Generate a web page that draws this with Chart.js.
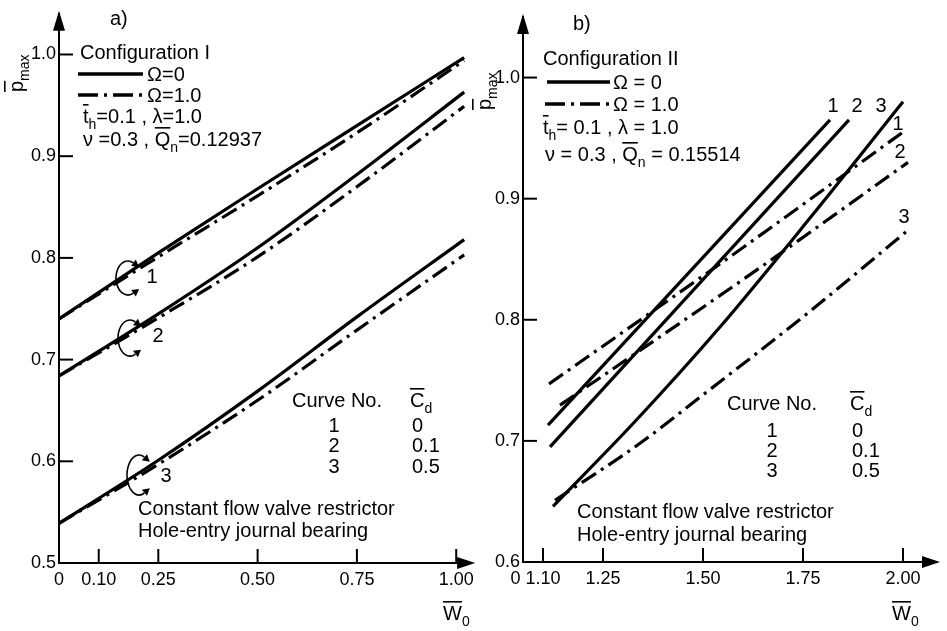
<!DOCTYPE html>
<html><head><meta charset="utf-8">
<script src="https://cdn.jsdelivr.net/npm/chart.js@4.4.1/dist/chart.umd.min.js"></script>
<style>
html,body{margin:0;padding:0;background:#fff;}
#wrap{position:relative;width:947px;height:631px;overflow:hidden;background:#fff;}
#ca{position:absolute;left:0;top:0;}
#cb{position:absolute;left:470px;top:0;}
</style></head><body>
<div id="wrap"><canvas id="ca" width="480" height="631"></canvas><canvas id="cb" width="477" height="631"></canvas></div>
<script>
const FF = '"Liberation Sans", Arial, sans-serif';
Chart.defaults.font.family = FF;
Chart.defaults.color = '#000';
const DASHDOT = [17, 6, 3, 6];

// ---------- Panel a) Configuration I ----------
const aX  = [0, 0.25, 0.5, 0.75, 1.02];
const aS1 = [0.740, 0.805, 0.868, 0.930, 0.997];   // Omega = 0, curve 1
const aS2 = [0.684, 0.745, 0.810, 0.882, 0.963];   // Omega = 0, curve 2
const aS3 = [0.539, 0.601, 0.669, 0.742, 0.818];   // Omega = 0, curve 3
const aD1 = [0.740, 0.801, 0.861, 0.923, 0.994];   // Omega = 1.0, curve 1
const aD2 = [0.684, 0.741, 0.801, 0.870, 0.949];   // Omega = 1.0, curve 2
const aD3 = [0.539, 0.597, 0.660, 0.729, 0.803];   // Omega = 1.0, curve 3
const aXTicks  = [0, 0.10, 0.25, 0.50, 0.75, 1.00];
const aXLabels = ['0', '0.10', '0.25', '0.50', '0.75', '1.00'];
const aYTicks  = [0.5, 0.6, 0.7, 0.8, 0.9, 1.0];
const aYLabels = ['0.5', '0.6', '0.7', '0.8', '0.9', '1.0'];

// ---------- Panel b) Configuration II ----------
const bS1x = [1.1125, 1.8175];                      const bS1y = [0.713, 0.965];
const bS2x = [1.1175, 1.865];                       const bS2y = [0.695, 0.965];
const bS3x = [1.125, 1.33, 1.5425, 1.77, 2.0];      const bS3y = [0.646, 0.716, 0.794, 0.885, 0.980];
const bD1x = [1.115, 1.61, 2.0];                    const bD1y = [0.747, 0.862, 0.955];
const bD2x = [1.1425, 1.6425, 2.0125];              const bD2y = [0.7295, 0.843, 0.930];
const bD3x = [1.13, 1.3425, 1.5, 1.7675, 2.0125];   const bD3y = [0.651, 0.698, 0.738, 0.807, 0.874];
const bXTicks  = [1.05, 1.10, 1.25, 1.50, 1.75, 2.00];
const bXLabels = ['0   ', '1.10', '1.25', '1.50', '1.75', '2.00'];
const bYTicks  = [0.6, 0.7, 0.8, 0.9, 1.0];
const bYLabels = ['0.6', '0.7', '0.8', '0.9', '1.0'];

const pts = (xs, ys) => xs.map((x, i) => ({x: x, y: ys[i]}));
const ds = (xs, ys, dashed) => ({
  data: pts(xs, ys), borderColor: '#000', borderWidth: 3.2,
  borderDash: dashed ? DASHDOT : [], pointRadius: 0, fill: false,
  cubicInterpolationMode: 'monotone', borderCapStyle: 'butt'
});

function line(ctx, x1, y1, x2, y2) { ctx.beginPath(); ctx.moveTo(x1, y1); ctx.lineTo(x2, y2); ctx.stroke(); }

function rich(ctx, x, y, parts, size, align) {
  // parts: [text, kind]; kind: '' normal, 'b' overbar, 's' subscript
  const widths = parts.map(([t, k]) => {
    ctx.font = (k === 's' ? Math.round(size * 0.72) : size) + 'px ' + FF;
    return ctx.measureText(t).width;
  });
  const total = widths.reduce((a, b) => a + b, 0);
  let cx = align === 'center' ? x - total / 2 : x;
  ctx.textBaseline = 'alphabetic'; ctx.textAlign = 'left';
  parts.forEach(([t, k], i) => {
    if (k === 's') {
      ctx.font = Math.round(size * 0.72) + 'px ' + FF;
      ctx.fillText(t, cx, y + size * 0.28);
    } else {
      ctx.font = size + 'px ' + FF;
      ctx.fillText(t, cx, y);
      if (k === 'b') ctx.fillRect(cx, y - size * 0.95, widths[i], 1.6);
    }
    cx += widths[i];
  });
}

function curl(ctx, cx, cy, rx, ry) {
  const a = 1.1;
  ctx.lineWidth = 1.6;
  ctx.beginPath(); ctx.ellipse(cx, cy, rx, ry, 0, -a, a, true); ctx.stroke();
  const heads = [
    {t: -a, dx: rx * Math.sin(a), dy: ry * Math.cos(a)},
    {t: a, dx: rx * Math.sin(a), dy: -ry * Math.cos(a)}
  ];
  heads.forEach(h => {
    const px = cx + rx * Math.cos(h.t), py = cy + ry * Math.sin(h.t);
    const L = Math.hypot(h.dx, h.dy); const ux = h.dx / L, uy = h.dy / L;
    ctx.beginPath();
    ctx.moveTo(px + ux * 7, py + uy * 7);
    ctx.lineTo(px - uy * 4, py + ux * 4);
    ctx.lineTo(px + uy * 4, py - ux * 4);
    ctx.closePath(); ctx.fill();
  });
}

function sample(ctx, x1, x2, y, dashed) {
  ctx.save(); ctx.lineWidth = 3.5; ctx.setLineDash(dashed ? [20, 6, 3, 6] : []);
  line(ctx, x1, y, x2, y); ctx.restore();
}

function decor(id, xT, yT, arrowTip, drawExtra) {
  return { id: 'decor' + id, afterDraw(chart) {
    const ctx = chart.ctx, xs = chart.scales.x, ys = chart.scales.y, ca = chart.chartArea;
    ctx.save();
    ctx.strokeStyle = '#000'; ctx.fillStyle = '#000'; ctx.lineWidth = 2;
    xT.forEach(v => { if (v === xs.min) return; const p = xs.getPixelForValue(v); line(ctx, p, ca.bottom, p, ca.bottom - 14); });
    yT.forEach(v => { if (v === ys.min) return; const p = ys.getPixelForValue(v); line(ctx, ca.left, p, ca.left + 14, p); });
    // axis arrows
    ctx.beginPath(); ctx.moveTo(ca.left, ca.top - 3); ctx.lineTo(ca.left - 6, ca.top + 17); ctx.lineTo(ca.left + 6, ca.top + 17); ctx.closePath(); ctx.fill();
    line(ctx, ca.right, ca.bottom, ca.right + arrowTip - 12, ca.bottom);
    ctx.beginPath(); ctx.moveTo(ca.right + arrowTip, ca.bottom); ctx.lineTo(ca.right + arrowTip - 18, ca.bottom - 6); ctx.lineTo(ca.right + arrowTip - 18, ca.bottom + 6); ctx.closePath(); ctx.fill();
    drawExtra(ctx);
    ctx.restore();
  }};
}

function options(xmin, xmax, ymin, ymax, xT, xL, yT, yL, pad) {
  return {
    responsive: false, animation: false, devicePixelRatio: 1,
    layout: { padding: pad },
    plugins: { legend: { display: false }, tooltip: { enabled: false } },
    scales: {
      x: { type: 'linear', min: xmin, max: xmax,
        afterBuildTicks: s => { s.ticks = xT.map(v => ({ value: v })); },
        afterFit: s => { s.height = 40; },
        grid: { display: false, drawTicks: false },
        border: { display: true, color: '#000', width: 2 },
        ticks: { callback: (v, i) => xL[i], color: '#000', font: { size: 18 }, padding: 6, maxRotation: 0, autoSkip: false }
      },
      y: { type: 'linear', min: ymin, max: ymax,
        afterBuildTicks: s => { s.ticks = yT.map(v => ({ value: v })); },
        afterFit: s => { s.width = 50; },
        grid: { display: false, drawTicks: false },
        border: { display: true, color: '#000', width: 2 },
        ticks: { callback: (v, i) => yL[i], color: '#000', font: { size: 18 }, padding: 3, autoSkip: false }
      }
    }
  };
}

// ---- Chart a ----
new Chart(document.getElementById('ca'), {
  type: 'line',
  data: { datasets: [
    ds(aX, aS1, false), ds(aX, aD1, true),
    ds(aX, aS2, false), ds(aX, aD2, true),
    ds(aX, aS3, false), ds(aX, aD3, true)
  ]},
  options: options(0, 1.0275, 0.5, 1.04, aXTicks, aXLabels, aYTicks, aYLabels, { left: 9, right: 10, top: 9, bottom: 28 }),
  plugins: [decor('a', aXTicks, aYTicks, 8, ctx => {
    const S = 20;
    rich(ctx, 110, 25, [['a)', '']], S);
    rich(ctx, 80, 59, [['Configuration I', '']], S);
    sample(ctx, 78, 143, 74, false);
    rich(ctx, 147, 81, [['Ω=0', '']], S);
    sample(ctx, 78, 143, 95, true);
    rich(ctx, 147, 102, [['Ω=1.0', '']], S);
    rich(ctx, 83, 123, [['t', 'b'], ['h', 's'], ['=0.1 , λ=1.0', '']], S);
    rich(ctx, 83, 146, [['ν =0.3 , ', ''], ['Q', 'b'], ['n', 's'], ['=0.12937', '']], S);
    rich(ctx, 292, 407, [['Curve No.', '']], S);
    rich(ctx, 410, 407, [['C', 'b'], ['d', 's']], S);
    rich(ctx, 334, 432, [['1', '']], S, 'center');
    rich(ctx, 334, 452, [['2', '']], S, 'center');
    rich(ctx, 334, 473, [['3', '']], S, 'center');
    rich(ctx, 412, 432, [['0', '']], S);
    rich(ctx, 412, 452, [['0.1', '']], S);
    rich(ctx, 412, 473, [['0.5', '']], S);
    rich(ctx, 138, 515, [['Constant flow valve restrictor', '']], S);
    rich(ctx, 138, 537, [['Hole-entry journal bearing', '']], S);
    rich(ctx, 152, 283, [['1', '']], S, 'center');
    rich(ctx, 158, 342, [['2', '']], S, 'center');
    rich(ctx, 166, 482, [['3', '']], S, 'center');
    curl(ctx, 128, 278, 12, 17);
    curl(ctx, 130, 338, 12, 18);
    curl(ctx, 139, 475, 12, 20);
    rich(ctx, 443, 620, [['W', 'b'], ['0', 's']], S);
    ctx.save(); ctx.translate(23, 92); ctx.rotate(-Math.PI / 2);
    rich(ctx, 0, 0, [['p', 'b'], ['max', 's']], S);
    ctx.restore();
  })]
});

// ---- Chart b ----
const OX = 470;
new Chart(document.getElementById('cb'), {
  type: 'line',
  data: { datasets: [
    ds(bS1x, bS1y, false), ds(bS2x, bS2y, false), ds(bS3x, bS3y, false),
    ds(bD1x, bD1y, true), ds(bD2x, bD2y, true), ds(bD3x, bD3y, true)
  ]},
  options: options(1.05, 2.08, 0.6, 1.05, bXTicks, bXLabels, bYTicks, bYLabels, { left: 3, right: 12, top: 17, bottom: 29 }),
  plugins: [decor('b', bXTicks, bYTicks, 5, ctx => {
    const S = 20;
    rich(ctx, 573 - OX, 30, [['b)', '']], S);
    rich(ctx, 543 - OX, 65, [['Configuration II', '']], S);
    sample(ctx, 547 - OX, 610 - OX, 82, false);
    rich(ctx, 613 - OX, 89, [['Ω = 0', '']], S);
    sample(ctx, 545 - OX, 610 - OX, 104, true);
    rich(ctx, 613 - OX, 111, [['Ω = 1.0', '']], S);
    rich(ctx, 543 - OX, 134, [['t', 'b'], ['h', 's'], ['= 0.1 , λ = 1.0', '']], S);
    rich(ctx, 545 - OX, 161, [['ν = 0.3 , ', ''], ['Q', 'b'], ['n', 's'], [' = 0.15514', '']], S);
    rich(ctx, 727 - OX, 410, [['Curve No.', '']], S);
    rich(ctx, 850 - OX, 410, [['C', 'b'], ['d', 's']], S);
    rich(ctx, 772 - OX, 437, [['1', '']], S, 'center');
    rich(ctx, 772 - OX, 457, [['2', '']], S, 'center');
    rich(ctx, 772 - OX, 477, [['3', '']], S, 'center');
    rich(ctx, 852 - OX, 437, [['0', '']], S);
    rich(ctx, 852 - OX, 457, [['0.1', '']], S);
    rich(ctx, 852 - OX, 477, [['0.5', '']], S);
    rich(ctx, 577 - OX, 518, [['Constant flow valve restrictor', '']], S);
    rich(ctx, 577 - OX, 541, [['Hole-entry journal bearing', '']], S);
    rich(ctx, 833 - OX, 112, [['1', '']], S, 'center');
    rich(ctx, 857 - OX, 112, [['2', '']], S, 'center');
    rich(ctx, 881 - OX, 112, [['3', '']], S, 'center');
    rich(ctx, 898 - OX, 130, [['1', '']], S, 'center');
    rich(ctx, 900 - OX, 158, [['2', '']], S, 'center');
    rich(ctx, 904 - OX, 223, [['3', '']], S, 'center');
    rich(ctx, 892 - OX, 620, [['W', 'b'], ['0', 's']], S);
    ctx.save(); ctx.translate(491 - OX, 110); ctx.rotate(-Math.PI / 2);
    rich(ctx, 0, 0, [['p', 'b'], ['max', 's']], S);
    ctx.restore();
  })]
});
</script>
</body></html>
